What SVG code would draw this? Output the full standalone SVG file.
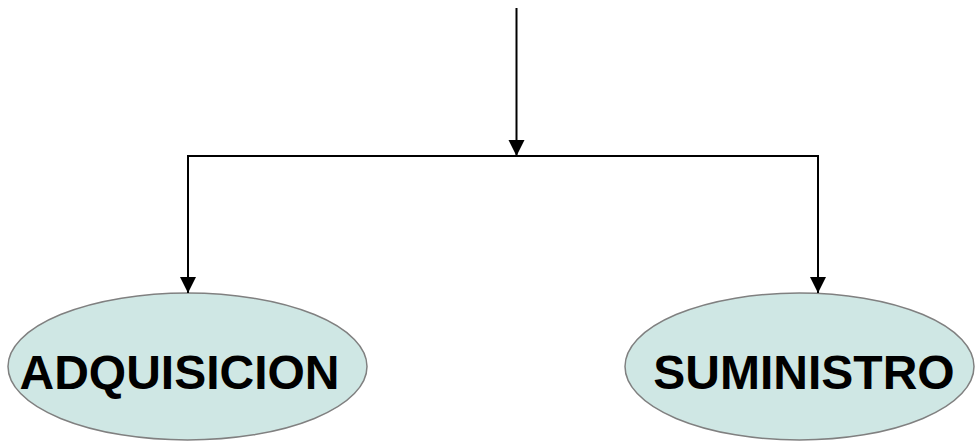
<svg xmlns="http://www.w3.org/2000/svg" width="975" height="442" viewBox="0 0 975 442">
<style>
.node ellipse{fill:#cfe7e4;stroke:#808080;stroke-width:1.5}
.node text{font-family:"Liberation Sans",Arial,sans-serif;font-weight:bold;font-size:48px;fill:#000;text-anchor:middle}
.conn{fill:none;stroke:#000;stroke-width:2}
</style>
<defs>
<marker id="arr" markerUnits="userSpaceOnUse" markerWidth="18" markerHeight="18" refX="16" refY="8" orient="auto">
<path d="M0,0 L16,8 L0,16 Z" fill="#000"/>
</marker>
</defs>
<rect width="975" height="442" fill="#fff"/>
<g id="nodes-adquisicion" class="node">
<ellipse cx="187.5" cy="366.5" rx="179.5" ry="73.5"/>
<text x="179.5" y="388.5">ADQUISICION</text>
</g>
<g id="nodes-suministro" class="node">
<ellipse cx="799.5" cy="366.5" rx="174.5" ry="73.5"/>
<text x="804" y="388.5">SUMINISTRO</text>
</g>
<g id="connectors">
<line class="conn" x1="516.5" y1="8" x2="516.5" y2="156" marker-end="url(#arr)"/>
<line class="conn" x1="188" y1="156" x2="818" y2="156"/>
<line class="conn" x1="188" y1="155" x2="188" y2="293" marker-end="url(#arr)"/>
<line class="conn" x1="818" y1="155" x2="818" y2="293" marker-end="url(#arr)"/>
</g>
</svg>
